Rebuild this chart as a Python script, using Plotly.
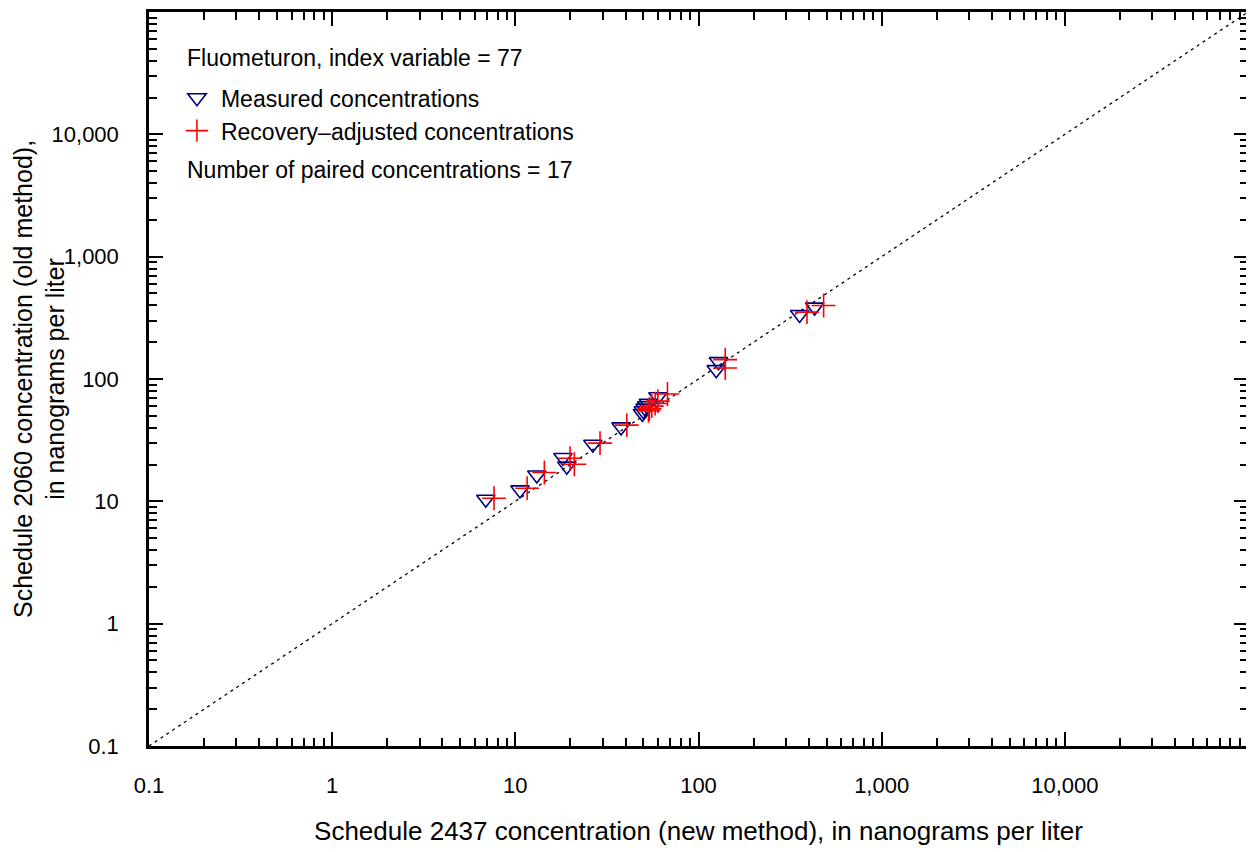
import plotly.graph_objects as go

# Data (nanograms per liter)
measured_new = [6.9, 10.6, 13.1, 18.2, 19.1, 26.5, 37.8, 49.4, 50.0, 51.1, 52.2, 53.3, 60.0, 125.0, 128.6, 356.6, 430.5]
measured_old = [10.4, 12.4, 16.4, 22.8, 19.4, 29.3, 40.6, 52.3, 55.0, 57.8, 60.4, 63.2, 71.6, 119.2, 138.6, 336.5, 387.0]
adjusted_new = [7.65, 11.6, 14.4, 19.9, 21.0, 29.0, 40.6, 53.3, 54.0, 55.6, 58.0, 60.0, 67.7, 140.0, 140.0, 391.0, 482.0]
adjusted_old = [10.6, 12.8, 17.2, 22.5, 20.1, 29.9, 42.0, 55.0, 57.0, 60.0, 63.0, 66.0, 75.4, 123.0, 143.9, 352.0, 399.0]

one_to_one = [0.1, 100000]

tick_vals = [0.1, 1, 10, 100, 1000, 10000]
tick_text = ["0.1", "1", "10", "100", "1,000", "10,000"]

FONT = "Liberation Sans, Arial, sans-serif"
minor_vals = [k * 10 ** e for e in range(-1, 5) for k in range(2, 10)]

fig = go.Figure()

fig.add_trace(go.Scatter(
    x=one_to_one, y=one_to_one, mode="lines",
    line=dict(color="black", width=1.3, dash="3px,4px"),
    showlegend=False, hoverinfo="skip",
))
fig.add_trace(go.Scatter(
    x=measured_new, y=measured_old, mode="markers",
    name="Measured concentrations",
    marker=dict(symbol="triangle-down-open", size=16, color="#00007f",
                line=dict(width=1.6, color="#00007f")),
))
fig.add_trace(go.Scatter(
    x=adjusted_new, y=adjusted_old, mode="markers",
    name="Recovery\u2013adjusted concentrations",
    marker=dict(symbol="cross-thin-open", size=17, color="#ff0000",
                line=dict(width=1.6, color="#ff0000")),
))

axis_common = dict(
    type="log", range=[-1, 5], automargin=False,
    showgrid=False, zeroline=False,
    showline=True, linewidth=2.5, linecolor="black",
    mirror="allticks", ticks="inside", ticklen=14, tickwidth=2, tickcolor="black",
    tickmode="array", tickvals=tick_vals, ticktext=tick_text,
    tickfont=dict(family=FONT, size=22, color="black"),
    minor=dict(ticks="inside", ticklen=8, tickwidth=2, tickcolor="black",
               tickvals=minor_vals, showgrid=False),
)

# The page body has an 8 px margin, so the figure is shifted by 8 px.
fig.update_layout(
    width=1246, height=844,
    margin=dict(l=141, r=6, t=4, b=106),
    paper_bgcolor="white", plot_bgcolor="white",
    font=dict(family=FONT, size=23, color="black"),
    xaxis=dict(**axis_common, ticklabelstandoff=18,
               title=dict(text="Schedule 2437 concentration (new method), in nanograms per liter",
                          font=dict(family=FONT, size=26), standoff=25)),
    yaxis=dict(**axis_common, ticklabelstandoff=23),
    legend=dict(
        x=0.0218, y=0.9125, xanchor="left", yanchor="top",
        bgcolor="rgba(0,0,0,0)", borderwidth=0,
        font=dict(family=FONT, size=23, color="black"),
        traceorder="normal", itemwidth=38,
    ),
    annotations=[
        dict(text="Schedule 2060 concentration (old method),<br>in nanograms per liter",
             xref="paper", yref="paper", x=-0.1001, y=0.5, xanchor="center", yanchor="middle",
             textangle=-90, showarrow=False, font=dict(family=FONT, size=25, color="black")),
        dict(text="Fluometuron, index variable = 77",
             xref="paper", yref="paper", x=0.033, y=0.9373, xanchor="left", yanchor="middle",
             showarrow=False, font=dict(family=FONT, size=23, color="black")),
        dict(text="Number of paired concentrations = 17",
             xref="paper", yref="paper", x=0.033, y=0.7847, xanchor="left", yanchor="middle",
             showarrow=False, font=dict(family=FONT, size=23, color="black")),
    ],
)

fig.write_html("out.html")
